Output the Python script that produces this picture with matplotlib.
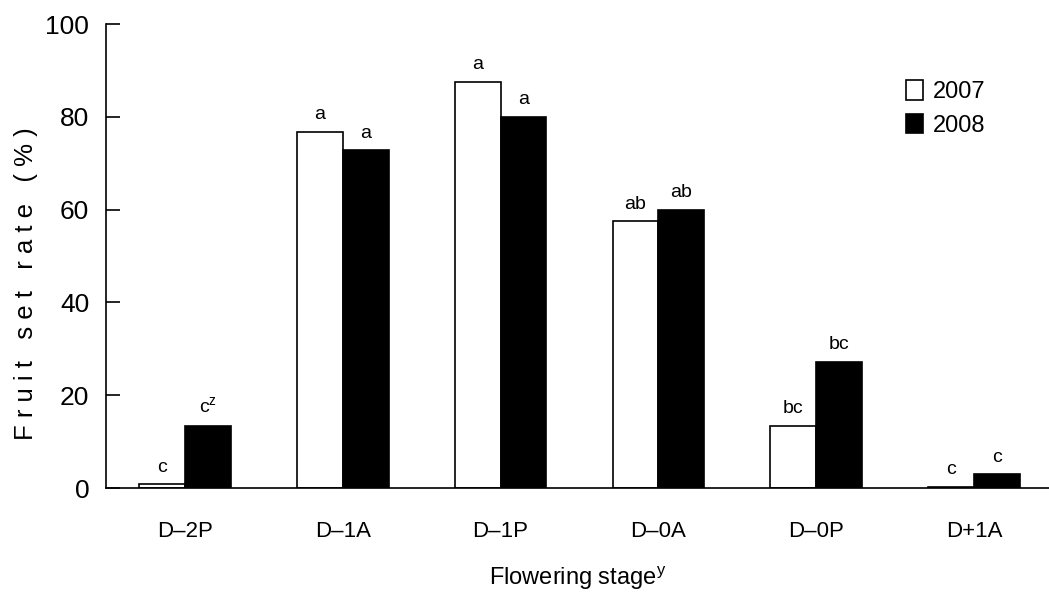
import numpy as np
import matplotlib
matplotlib.use('Agg')
import matplotlib.pyplot as plt

plt.rcParams['font.family'] = ['Liberation Sans', 'DejaVu Sans']

# ── Data ──────────────────────────────────────────────────────────────────────
stages = ["D\u20132P", "D\u20131A", "D\u20131P", "D\u20130A", "D\u20130P", "D+1A"]
rate_2007 = [0.8, 76.8, 87.6, 57.5, 13.4, 0.3]
rate_2008 = [13.4, 72.8, 80.0, 60.0, 27.2, 3.0]
letters_2007 = ["c", "a", "a", "ab", "bc", "c"]
letters_2008 = ["c$^{\\mathregular{z}}$", "a", "a", "ab", "bc", "c"]
yticks = [0, 20, 40, 60, 80, 100]

# ── Figure ────────────────────────────────────────────────────────────────────
fig = plt.figure(figsize=(10.49, 5.95), dpi=100)
ax = fig.add_axes([106 / 1049, 107 / 595, 943 / 1049, 464 / 595])

x = np.arange(len(stages))
width = 0.29

ax.bar(x - width / 2, rate_2007, width, color="white", edgecolor="black",
       linewidth=1.2, label="2007")
ax.bar(x + width / 2, rate_2008, width, color="black", edgecolor="black",
       linewidth=1.2, label="2008")

for xi, v, t in zip(x, rate_2007, letters_2007):
    ax.text(xi - width / 2, v + 1.8, t, ha="center", va="bottom", fontsize=14)
for xi, v, t in zip(x, rate_2008, letters_2008):
    ax.text(xi + width / 2, v + 1.8, t, ha="center", va="bottom", fontsize=14)

ax.set_xlim(-0.5, 5.475)
ax.set_ylim(0, 100)
ax.set_yticks(yticks)
ax.set_yticklabels([str(t) for t in yticks], fontsize=19)
ax.set_xticks(x)
ax.set_xticklabels(stages, fontsize=16)
ax.tick_params(axis="y", direction="in", length=10, width=1.2, pad=12)
ax.tick_params(axis="x", length=0, pad=24)

for s in ["top", "right"]:
    ax.spines[s].set_visible(False)
ax.spines["left"].set_linewidth(1.2)
ax.spines["bottom"].set_linewidth(1.2)

ax.set_ylabel("F r u i t   s e t   r a t e   ( % )", fontsize=18.5)
ax.yaxis.set_label_coords(-0.072, 0.44)
ax.set_xlabel("Flowering stage$^{\\mathregular{y}}$", fontsize=17, labelpad=16)

ax.legend(loc="upper right", bbox_to_anchor=(0.955, 0.925), frameon=False,
          fontsize=17, handlelength=0.75, handleheight=0.9, handletextpad=0.4,
          labelspacing=0.45)

fig.savefig("out.png", dpi=100)
